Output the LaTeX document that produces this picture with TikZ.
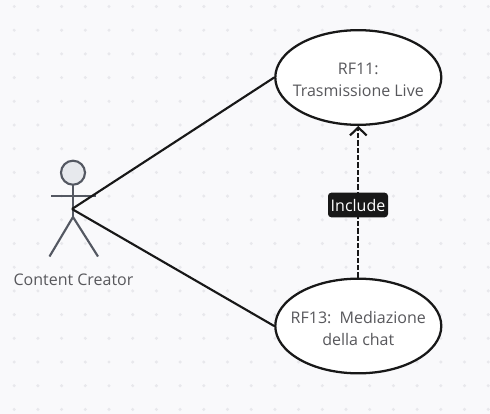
\documentclass[tikz,border=0pt]{standalone}
\usepackage{fontspec}
\setmainfont{Open Sans}
\usepackage{xcolor}
\usetikzlibrary{shapes,arrows.meta}
\definecolor{pagebg}{RGB}{249,249,251}
\definecolor{griddot}{RGB}{232,232,236}
\definecolor{actorline}{RGB}{84,88,98}
\definecolor{actorfill}{RGB}{231,233,237}
\definecolor{inktext}{RGB}{88,88,92}
\definecolor{inkline}{RGB}{24,24,24}
\tikzset{
  usecase/.style={draw=inkline,line width=1.7pt,fill=white,ellipse,minimum width=124.5pt,minimum height=71pt,inner xsep=-14pt,inner ysep=0pt,align=center,text=inktext,text height=29pt,font=\fontsize{12}{16.5}\selectfont},
  actorstroke/.style={draw=actorline,line width=1.6pt},
  relation/.style={draw=inkline,line width=1.6pt},
  tag/.style={fill=inkline,rounded corners=2.5pt,text=white,inner sep=0pt,minimum width=45pt,minimum height=18.5pt,font=\fontsize{12}{14}\selectfont}
}
\begin{document}
\begin{tikzpicture}[x=0.75pt,y=0.75pt,yscale=-1]
%Shape: Rectangle
\fill [pagebg] (0,0) rectangle (490,414);
\useasboundingbox (0,0) rectangle (490,414);
%Grid dots
\foreach \i in {0,...,20}
  \foreach \j in {0,...,17}
    \fill [griddot] (14.2+23.7*\i,6.5+23.7*\j) circle (1.7);

%Use cases
\node (live) [usecase] at (358.3,77.5) {RF11:\\Trasmissione Live};
\node (chat) [usecase] at (358.3,326) {RF13:\ \ Mediazione\\della chat};
\coordinate (hub) at (72,209);

%Actor
\draw [actorstroke,fill=actorfill] (73,172.7) circle (12);
\draw [actorstroke] (73,184.7) -- (73,217);
\draw [actorstroke] (51,196.3) -- (96,196.3);
\draw [actorstroke] (49.5,256.5) -- (73,217) -- (98,256.5);
\node (creator) [text=inktext,font=\fontsize{12}{14}\selectfont] at (73.5,279.5) {Content Creator};

%Straight Lines
\draw [relation] (hub) -- (live.west);
\draw [relation] (hub) -- (chat.west);
\draw [relation,dashed,dash pattern=on 4pt off 1.5pt,-{Straight Barb[length=6pt,width=12.5pt,line width=1.6pt]}] (chat.north) -- (live.south);

% Text Node
\node (include) [tag] at (358,205) {Include};
\end{tikzpicture}
\end{document}
